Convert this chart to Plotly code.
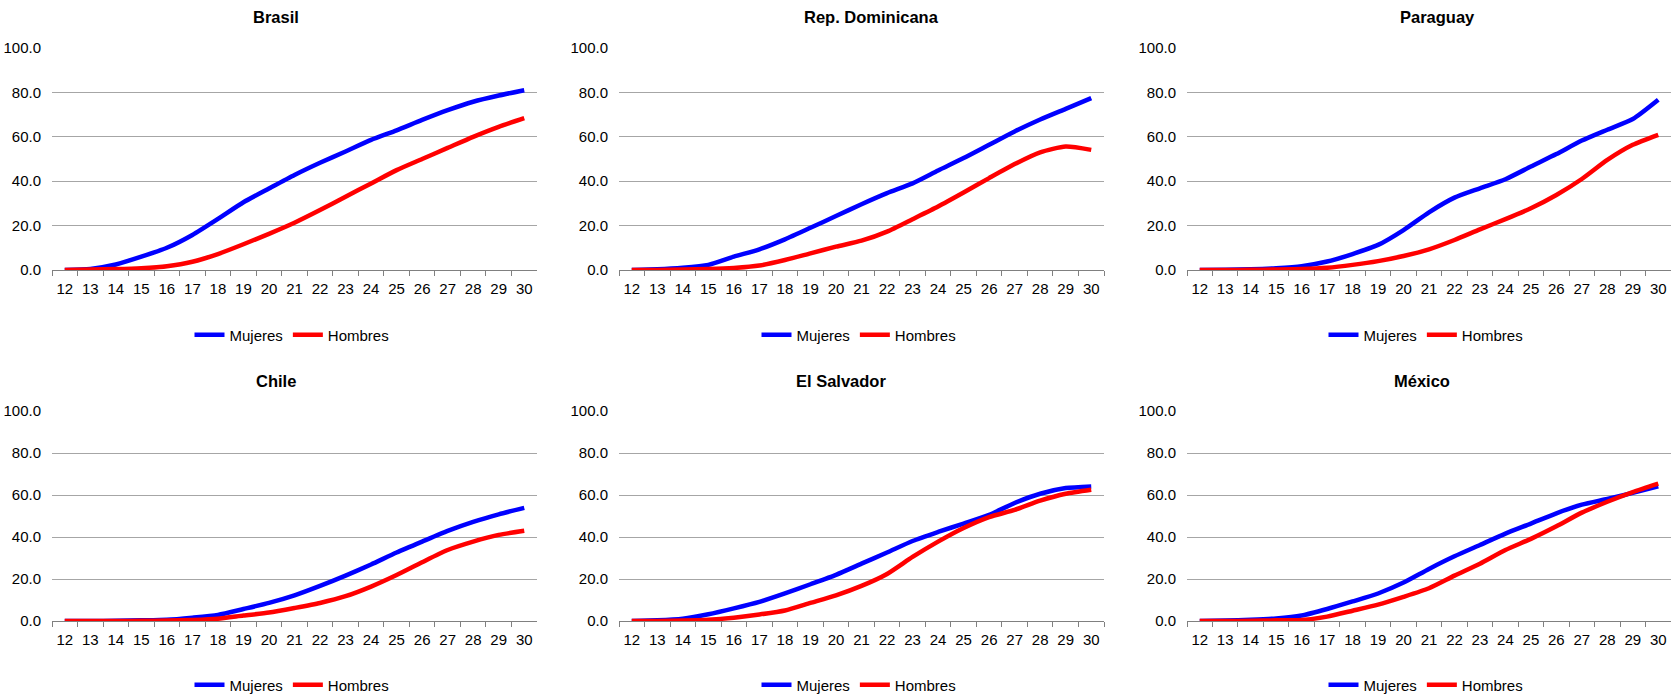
import plotly.graph_objects as go

edades = ["12", "13", "14", "15", "16", "17", "18", "19", "20", "21",
          "22", "23", "24", "25", "26", "27", "28", "29", "30"]

paises = ["Brasil", "Rep. Dominicana", "Paraguay", "Chile", "El Salvador", "México"]

brasil_mujeres = [0.0, 0.5, 2.5, 6.0, 10.0, 15.8, 23.0, 30.5, 36.7, 42.8,
                  48.3, 53.4, 58.6, 62.9, 67.6, 72.0, 75.8, 78.6, 81.0]
brasil_hombres = [0.0, 0.2, 0.4, 0.8, 1.7, 3.7, 7.2, 11.6, 16.3, 21.3,
                  27.0, 33.0, 39.0, 45.0, 50.0, 55.0, 60.0, 64.5, 68.4]

rd_mujeres = [0.0, 0.3, 1.0, 2.3, 6.0, 9.3, 13.8, 19.0, 24.3, 29.6,
              34.6, 39.0, 44.8, 50.4, 56.4, 62.4, 67.8, 72.6, 77.4]
rd_hombres = [0.0, 0.0, 0.2, 0.4, 0.9, 2.0, 4.5, 7.5, 10.5, 13.2,
              17.3, 22.9, 28.6, 34.9, 41.4, 47.7, 53.0, 55.6, 54.1]

py_mujeres = [0.0, 0.1, 0.3, 0.8, 1.7, 3.8, 7.2, 11.3, 18.0, 26.0,
              32.6, 36.8, 40.9, 46.6, 52.2, 58.3, 63.2, 68.0, 76.7]
py_hombres = [0.0, 0.0, 0.1, 0.2, 0.4, 1.0, 2.3, 4.0, 6.3, 9.3,
              13.5, 18.3, 22.9, 27.8, 33.8, 41.0, 49.6, 56.4, 60.9]

cl_mujeres = [0.0, 0.0, 0.1, 0.3, 0.6, 1.6, 2.9, 5.7, 8.6, 12.2,
              16.7, 21.6, 26.9, 32.6, 37.8, 42.9, 47.2, 50.8, 53.9]
cl_hombres = [0.0, 0.0, 0.0, 0.1, 0.2, 0.5, 1.1, 2.6, 4.0, 6.2,
              8.6, 11.8, 16.4, 21.9, 28.0, 33.8, 37.8, 41.0, 43.0]

sv_mujeres = [0.0, 0.3, 1.1, 3.2, 6.0, 9.1, 13.1, 17.5, 22.0, 27.3,
              32.6, 38.1, 42.4, 46.4, 50.5, 56.2, 60.6, 63.3, 64.1]
sv_hombres = [0.0, 0.0, 0.2, 0.6, 1.6, 3.1, 5.0, 8.6, 12.2, 16.7,
              22.4, 30.5, 37.8, 44.3, 49.5, 52.9, 57.3, 60.6, 62.5]

mx_mujeres = [0.0, 0.2, 0.6, 1.2, 2.6, 5.7, 9.3, 13.1, 18.3, 24.8,
              30.8, 36.2, 41.6, 46.4, 51.3, 55.4, 58.1, 61.0, 64.1]
mx_hombres = [0.0, 0.0, 0.1, 0.3, 0.5, 2.1, 4.9, 7.8, 11.5, 15.6,
              21.6, 27.3, 33.8, 39.1, 45.1, 51.6, 56.8, 61.4, 65.4]

series_mujeres = [brasil_mujeres, rd_mujeres, py_mujeres, cl_mujeres, sv_mujeres, mx_mujeres]
series_hombres = [brasil_hombres, rd_hombres, py_hombres, cl_hombres, sv_hombres, mx_hombres]

W, H = 1671, 697
FONT = "Liberation Sans, Arial, sans-serif"

# pixel layout of each panel: (left, right, top, bottom)
cols_px = [(52, 537), (619, 1104), (1187, 1671)]
rows_px = [(48, 270), (411, 621)]
title_px = [(276, 17), (872, 17), (1437, 17), (276, 381), (841, 381), (1422, 381)]
legend_px = [(292, 335), (859, 335), (1426, 335), (292, 685), (859, 685), (1426, 685)]

fig = go.Figure()
layout = dict(
    width=W, height=H,
    margin=dict(l=0, r=0, t=0, b=0, autoexpand=False),
    paper_bgcolor="white", plot_bgcolor="white",
    font=dict(family=FONT, size=15, color="#000000"),
    annotations=[],
)

for i, pais in enumerate(paises):
    r, c = divmod(i, 3)
    n = "" if i == 0 else str(i + 1)
    xa, ya = "x" + n, "y" + n
    lg = "legend" + n
    x0, x1 = cols_px[c]
    t0, b0 = rows_px[r]
    fig.add_trace(go.Scatter(
        x=edades, y=series_mujeres[i], name="Mujeres", mode="lines",
        line=dict(color="#0000FF", width=4.5, shape="spline", smoothing=0.6),
        xaxis=xa, yaxis=ya, legend=lg, showlegend=True))
    fig.add_trace(go.Scatter(
        x=edades, y=series_hombres[i], name="Hombres", mode="lines",
        line=dict(color="#FF0000", width=4.5, shape="spline", smoothing=0.6),
        xaxis=xa, yaxis=ya, legend=lg, showlegend=True))

    layout["xaxis" + n] = dict(
        domain=[x0 / W, min(x1 / W, 1.0)], anchor=ya,
        type="category", range=[-0.5, 18.5],
        tickson="boundaries", ticks="outside", ticklen=5, tickcolor="#808080",
        showline=True, linecolor="#808080", linewidth=1,
        showgrid=False, zeroline=False, automargin=False, tickangle=0,
        tickfont=dict(family=FONT, size=15, color="#000000"),
        ticklabelstandoff=5,
        fixedrange=True,
    )
    layout["yaxis" + n] = dict(
        domain=[1 - b0 / H, 1 - t0 / H], anchor=xa,
        range=[0, 100], dtick=20, tick0=0, tickformat=".1f",
        showgrid=True, gridcolor="#A6A6A6", gridwidth=1,
        zeroline=False, showline=False, ticks="", automargin=False,
        tickfont=dict(family=FONT, size=15, color="#000000"),
        ticklabelstandoff=10,
        fixedrange=True,
    )
    lx, ly = legend_px[i]
    layout[lg] = dict(
        orientation="h", x=lx / W, y=1 - ly / H,
        xanchor="center", yanchor="middle",
        font=dict(family=FONT, size=15, color="#000000"),
        bgcolor="rgba(0,0,0,0)", itemclick=False, itemdoubleclick=False,
        tracegroupgap=0,
    )
    tx, ty = title_px[i]
    layout["annotations"].append(dict(
        text="<b>" + pais + "</b>", x=tx / W, y=1 - ty / H,
        xref="paper", yref="paper", xanchor="center", yanchor="middle",
        showarrow=False, font=dict(family=FONT, size=16.5, color="#000000")))

fig.update_layout(**layout)
fig.write_html(
    "out.html",
    config={"displayModeBar": False},
    post_script="document.body.style.margin='0';document.body.style.padding='0';"
                "document.body.style.overflow='hidden';",
)
